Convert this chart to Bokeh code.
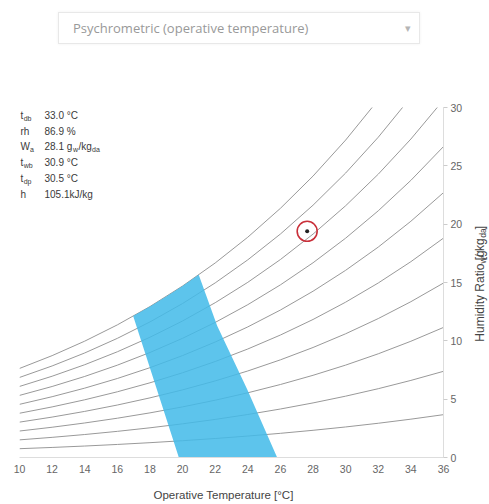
from bokeh.plotting import figure
from bokeh.models import Range1d, Label, Div, FixedTicker
from bokeh.layouts import column, row
from bokeh.embed import file_html
from bokeh.resources import INLINE

# ---------------- data ----------------
temps = [10, 12, 14, 16, 18, 20, 22, 24, 26, 28, 30, 32, 34, 36]
rh10 = [0.755, 0.862, 0.983, 1.119, 1.270, 1.439, 1.628, 1.838, 2.072, 2.331, 2.618, 2.935, 3.286, 3.672]
rh20 = [1.512, 1.727, 1.969, 2.241, 2.545, 2.885, 3.265, 3.687, 4.157, 4.679, 5.258, 5.898, 6.607, 7.388]
rh30 = [2.270, 2.594, 2.959, 3.368, 3.826, 4.338, 4.910, 5.547, 6.257, 7.045, 7.920, 8.890, 9.963, 11.149]
rh40 = [3.031, 3.464, 3.951, 4.498, 5.111, 5.797, 6.564, 7.418, 8.371, 9.429, 10.605, 11.910, 13.355, 14.954]
rh50 = [3.793, 4.336, 4.947, 5.633, 6.402, 7.264, 8.226, 9.301, 10.498, 11.831, 13.314, 14.959, 16.784, 18.806]
rh60 = [4.557, 5.210, 5.946, 6.772, 7.699, 8.737, 9.898, 11.194, 12.641, 14.252, 16.045, 18.037, 20.250, 22.704]
rh70 = [5.323, 6.087, 6.948, 7.915, 9.001, 10.217, 11.578, 13.100, 14.798, 16.691, 18.800, 21.146, 23.754, 26.651]
rh80 = [6.091, 6.966, 7.953, 9.062, 10.308, 11.704, 13.267, 15.016, 16.970, 19.149, 21.579, 24.284, 27.296, 30.645]
rh90 = [6.860, 7.848, 8.961, 10.213, 11.620, 13.198, 14.966, 16.944, 19.156, 21.626, 24.382, 27.454, 30.878, 34.689]
rh100 = [7.632, 8.732, 9.973, 11.369, 12.938, 14.699, 16.673, 18.884, 21.358, 24.122, 27.210, 30.655, 34.499, 38.784]
rh_curves = [rh10, rh20, rh30, rh40, rh50, rh60, rh70, rh80, rh90, rh100]

# comfort zone outline (operative temperature, humidity ratio)
zone_t = [19.77, 25.80, 23.96, 22.12, 20.99, 20.0, 19.0, 18.0, 16.97]
zone_w = [0.0, 0.0, 5.85, 11.29, 15.66, 14.70, 13.79, 12.94, 12.13]

# current condition
point_t = [27.64]
point_w = [19.39]

x_ticks = [10, 12, 14, 16, 18, 20, 22, 24, 26, 28, 30, 32, 34, 36]
y_ticks = [0, 5, 10, 15, 20, 25, 30]

info_symbols = ["t", "rh", "W", "t", "t", "h"]
info_subs = ["db", "", "a", "wb", "dp", ""]
info_values = ["33.0  \u00b0C", "86.9  %", None, "30.9  \u00b0C", "30.5  \u00b0C", "105.1kJ/kg"]
w_value_parts = ["28.1 g", "w", "/kg", "da"]

title_text = "Psychrometric (operative temperature)"
x_label = "Operative Temperature [\u00b0C]"
y_label_parts = ["Humidity Ratio [g", "w", " / kg", "da", "]"]

# ---------------- layout ----------------
FONT = "Liberation Sans"
X0, X1, Y0, Y1 = 10, 36, 0, 30
FRAME_LEFT, FRAME_TOP, FRAME_W, FRAME_H = 19, 107, 424, 350


def dx(page_x):
    return X0 + (page_x - FRAME_LEFT) * (X1 - X0) / FRAME_W


def dy(page_y):
    return Y1 - (page_y - FRAME_TOP) * (Y1 - Y0) / FRAME_H


dropdown = Div(
    text=(
        '<div style="position:relative;width:481px;height:66px;">'
        '<div style="position:absolute;left:58px;top:12px;width:362px;height:32px;'
        'box-sizing:border-box;border:1px solid #e8e8e8;box-shadow:0 0 3px rgba(0,0,0,0.06);'
        "background:#fff;font-family:'Open Sans';font-size:13px;color:#999999;"
        'line-height:30px;padding-left:14px;white-space:nowrap;">'
        + title_text
        + '<span style="position:absolute;right:8px;top:0;font-size:11px;color:#b5b5b5;">&#9662;</span>'
        "</div></div>"
    ),
    width=481,
    height=66,
    margin=0,
)

p = figure(
    width=470,
    height=414,
    x_range=Range1d(X0, X1),
    y_range=Range1d(Y0, Y1),
    output_backend="svg",
    toolbar_location=None,
    y_axis_location="right",
    min_border_left=19,
    min_border_right=27,
    min_border_top=41,
    min_border_bottom=23,
    margin=0,
)
p.grid.visible = False
p.outline_line_color = None
p.background_fill_color = "white"
p.border_fill_color = "white"

# RH curves
for w in rh_curves:
    p.line(temps, w, line_color="#999999", line_width=1)

# comfort zone
p.patch(zone_t, zone_w, fill_color="#42bae9", fill_alpha=0.86, line_color=None)

# current point
p.scatter(point_t, point_w, size=20, fill_color=None, line_color="#c9303a", line_width=1.6)
p.scatter(point_t, point_w, size=4, fill_color="#222222", line_color=None)

# axes
p.xaxis.ticker = FixedTicker(ticks=x_ticks)
p.yaxis.ticker = FixedTicker(ticks=y_ticks)
for ax in (p.xaxis, p.yaxis):
    ax.axis_line_color = "#dddddd"
    ax.axis_line_width = 1
    ax.minor_tick_line_color = None
    ax.major_label_text_font = FONT
    ax.major_label_text_font_size = "10.5px"
    ax.major_label_text_color = "#666666"
p.xaxis.major_tick_line_color = None
p.xaxis.major_tick_out = 0
p.xaxis.major_tick_in = 0
p.xaxis.major_label_standoff = 7
p.yaxis.major_tick_line_color = "#cccccc"
p.yaxis.major_tick_out = 4
p.yaxis.major_tick_in = 0
p.yaxis.major_label_standoff = 3


def info_text(px, py, text, size):
    p.add_layout(Label(x=dx(px), y=dy(py), text=text, text_font=FONT, text_font_size=size,
                       text_color="#3a3a3a", text_baseline="middle"))


row_y = [115, 131, 146, 162, 178, 194]
for i in range(6):
    yy = row_y[i]
    info_text(20, yy, info_symbols[i], "10px")
    if info_subs[i]:
        offs = 9.5 if info_symbols[i] == "W" else 3.2
        info_text(20 + offs, yy + 3, info_subs[i], "7px")
    if info_values[i] is not None:
        info_text(44, yy, info_values[i], "10px")
    else:
        offsets = [44, 72.5, 78, 91.5]
        for j, (part, off) in enumerate(zip(w_value_parts, offsets)):
            sub = j in (1, 3)
            info_text(off, yy + (3 if sub else 0), part, "7px" if sub else "10px")


def text_strip(width, height):
    f = figure(width=width, height=height, x_range=Range1d(0, width), y_range=Range1d(0, height),
               output_backend="svg", toolbar_location=None, x_axis_type=None, y_axis_type=None,
               min_border=0, margin=0)
    f.grid.visible = False
    f.outline_line_color = None
    f.background_fill_color = "white"
    f.border_fill_color = "white"
    return f


# right strip with the rotated humidity ratio label (page x 470..489, y 66..480)
side = text_strip(19, 414)
sizes = ["12px", "8.5px", "12px", "8.5px", "12px"]
lengths = [92.5, 7.0, 23.5, 10.0, 3.5]
pos = 480 - 343  # bottom end of the label
for i, (txt, sz, ln) in enumerate(zip(y_label_parts, sizes, lengths)):
    sub = i in (1, 3)
    side.add_layout(Label(x=9.5 + (3 if sub else 0), y=pos, text=txt, angle=90, angle_units="deg",
                          text_font=FONT, text_font_size=sz, text_color="#444444",
                          text_align="left", text_baseline="middle"))
    pos += ln

# bottom strip with the x axis title (page y 480..502)
bottom = text_strip(489, 22)
bottom.add_layout(Label(x=223, y=8, text=x_label, text_font=FONT, text_font_size="11.5px",
                        text_color="#444444", text_align="center", text_baseline="middle"))

layout = column(dropdown, row(p, side, margin=0, spacing=0), bottom, margin=0, spacing=0)
open("out.html", "w").write(file_html(layout, INLINE))
